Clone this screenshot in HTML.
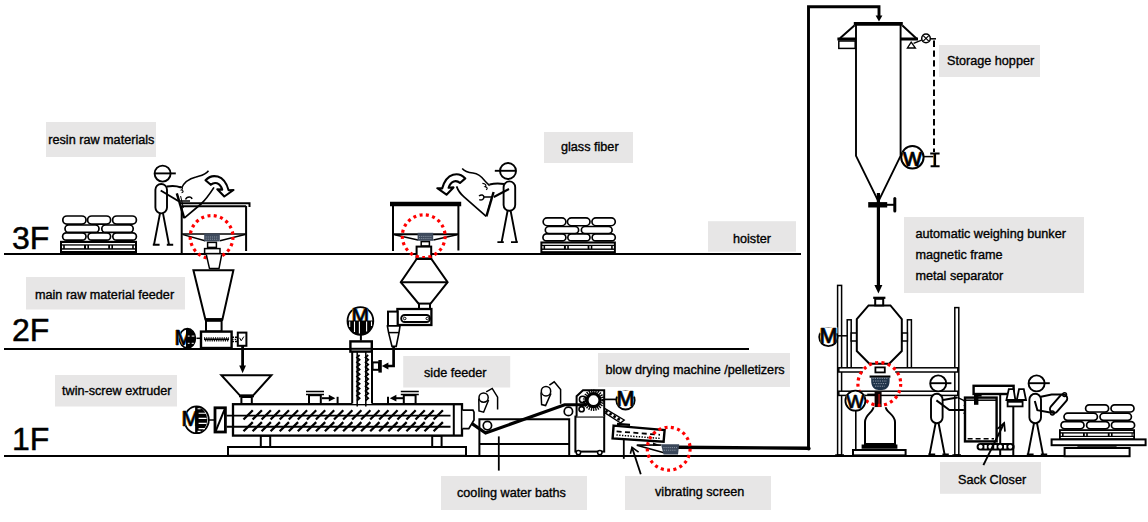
<!DOCTYPE html>
<html><head><meta charset="utf-8">
<style>
html,body{margin:0;padding:0;background:#fff;}
body{width:1148px;height:522px;overflow:hidden;}
svg{display:block;}
.lb{fill:#e7e6e6;}
.t{font-family:"Liberation Sans",sans-serif;font-size:12.65px;fill:#000;stroke:#000;stroke-width:0.35px;}
.fl{font-family:"Liberation Sans",sans-serif;font-size:32px;fill:#000;stroke:#000;stroke-width:0.5px;}
.k{fill:none;stroke:#000;stroke-width:2;}
.k1{fill:none;stroke:#000;stroke-width:1.5;}
.k3{fill:none;stroke:#000;stroke-width:3;}
.w{fill:#fff;stroke:#000;stroke-width:2;}
.w1{fill:#fff;stroke:#000;stroke-width:1.5;}
.b{fill:#000;stroke:none;}
.rd{fill:none;stroke:#f00;stroke-width:3;stroke-dasharray:3 3.6;}
</style></head>
<body>
<svg width="1148" height="522" viewBox="0 0 1148 522">
<rect width="1148" height="522" fill="#fff"/>
<!-- LABELS -->
<g id="labels">
<rect class="lb" x="46" y="122" width="110" height="35"/><text class="t" x="48.3" y="143.8">resin raw materials</text>
<rect class="lb" x="544" y="132" width="89" height="31"/><text class="t" x="561" y="150.5">glass fiber</text>
<rect class="lb" x="708" y="221.2" width="88" height="30.5"/><text class="t" x="733" y="243">hoister</text>
<rect class="lb" x="26" y="277" width="159" height="32.5"/><text class="t" x="35" y="299">main raw material feeder</text>
<rect class="lb" x="55" y="375" width="122" height="31.5"/><text class="t" x="62" y="395">twin-screw extruder</text>
<rect class="lb" x="403.2" y="356" width="107" height="31.5"/><text class="t" x="424" y="377">side feeder</text>
<rect class="lb" x="598" y="353" width="192" height="34"/><text class="t" x="605.5" y="374">blow drying machine /pelletizers</text>
<rect class="lb" x="441" y="476" width="146" height="34"/><text class="t" x="457" y="497">cooling water baths</text>
<rect class="lb" x="625" y="476" width="146" height="34"/><text class="t" x="655" y="496">vibrating screen</text>
<rect class="lb" x="939" y="45" width="101" height="32"/><text class="t" x="947" y="65">Storage hopper</text>
<rect class="lb" x="904" y="217" width="180" height="76"/>
<text class="t" x="915.5" y="238">automatic weighing bunker</text>
<text class="t" x="915.5" y="259">magnetic frame</text>
<text class="t" x="915.5" y="280">metal separator</text>
<rect class="lb" x="940" y="462" width="101" height="31.8"/><text class="t" x="958" y="484">Sack Closer</text>
</g>
<!-- FLOORS -->
<g id="floors">
<line class="k" x1="4" y1="254" x2="801" y2="254"/>
<line class="k" x1="4" y1="348.9" x2="749" y2="348.9"/>
<line class="k" x1="4" y1="456" x2="1130" y2="456"/>
<text class="fl" x="12" y="249">3F</text>
<text class="fl" x="12" y="341">2F</text>
<text class="fl" x="12" y="450">1F</text>
</g>
<defs>
<!-- sack pile on pallet; origin = pallet bottom-left at floor line centre; width 77 -->
<g id="pile">
  <rect x="0" y="-13.2" width="77" height="13.2" fill="#000"/>
  <rect x="2" y="-11" width="73" height="1.3" fill="#fff"/>
  <rect x="2" y="-4.3" width="73" height="1.3" fill="#fff"/>
  <rect x="2" y="-8.4" width="1.2" height="2.6" fill="#fff"/>
  <rect x="4.8" y="-8.4" width="19.2" height="2.6" fill="#fff"/>
  <rect x="26" y="-8.4" width="1.4" height="2.6" fill="#fff"/>
  <rect x="29" y="-8.4" width="19.2" height="2.6" fill="#fff"/>
  <rect x="50" y="-8.4" width="1.4" height="2.6" fill="#fff"/>
  <rect x="53" y="-8.4" width="19.2" height="2.6" fill="#fff"/>
  <rect x="73.8" y="-8.4" width="1.2" height="2.6" fill="#fff"/>
  <g fill="#fff" stroke="#000" style="stroke-width:1.7">
    <rect x="2.6" y="-21.2" width="23.4" height="7.4" rx="3.7"/>
    <rect x="28" y="-21.2" width="22.6" height="7.4" rx="3.7"/>
    <rect x="52.8" y="-21.2" width="23.6" height="7.4" rx="3.7"/>
    <rect x="5" y="-29" width="34" height="7.4" rx="3.7"/>
    <rect x="41.8" y="-29" width="31.4" height="7.4" rx="3.7"/>
    <rect x="2.8" y="-38" width="23.2" height="8.2" rx="4.1"/>
    <rect x="27.6" y="-38" width="23" height="8.2" rx="4.1"/>
    <rect x="52.6" y="-38" width="23.8" height="8.2" rx="4.1"/>
  </g>
</g>
<!-- worker facing right; origin = feet centre on floor. -->
<g id="worker" fill="none" stroke="#000" style="stroke-width:1.9" stroke-linecap="butt">
  <circle cx="0" cy="-72" r="8" fill="#fff"/>
  <line x1="-8" y1="-72.2" x2="13.2" y2="-72.2"/>
  <rect x="-7.2" y="-61.6" width="11.6" height="29.4" rx="5.8" fill="#fff"/>
  <path d="M-2.6,-32.2 L-8.6,-0.9 M0.4,-32.2 L6.4,-0.9"/>
  <path d="M-9.8,-0.9 H-3 M4.2,-0.9 H10.6"/>
</g>
<!-- red dashed circle + valve; origin = circle centre -->
<g id="rvalve">
  <circle cx="0" cy="0" r="21.4" fill="none" stroke="#f00" style="stroke-width:3.2" stroke-dasharray="3 3.4"/>
</g>
<!-- motor 2F: origin = ellipse centre -->
<g id="motor">
  <ellipse cx="0" cy="0" rx="8" ry="9.6" fill="#fff" stroke="#000" style="stroke-width:1.7"/>
  <text x="-13.6" y="6.4" font-family="Liberation Sans" font-size="21.5" fill="#f0a030" stroke="none">M</text><text x="-12.2" y="6.4" font-family="Liberation Sans" font-size="21.5" fill="#2f7fd0" stroke="none">M</text><text x="-12.9" y="6.4" font-family="Liberation Sans" font-size="21.5" fill="#000" stroke="#000" style="stroke-width:0.5">M</text>
  <path d="M-1.3,-9.5 A8,9.6 0 0 1 -1.3,9.5 Z" fill="#000"/>
  <path d="M-1.3,-9.6 H0 A8,9.6 0 0 1 0,9.6 H-1.3 Z" fill="#000"/>
  <path d="M0.4,-2.2 H2.2 M4.3,-2.2 H7 M0.4,5 H2.2 M4.3,5 H6.4" stroke="#fff" style="stroke-width:1" fill="none"/>
  
</g>
<g id="motorB">
  <ellipse cx="0" cy="0" rx="12.2" ry="13.4" fill="#fff" stroke="#000" style="stroke-width:1.8"/>
  <text x="-15.8" y="5.9" font-family="Liberation Sans" font-size="21.5" fill="#f0a030" stroke="none">M</text><text x="-14.4" y="5.9" font-family="Liberation Sans" font-size="21.5" fill="#2f7fd0" stroke="none">M</text><text x="-15.1" y="5.9" font-family="Liberation Sans" font-size="21.5" fill="#000" stroke="#000" style="stroke-width:0.5">M</text>
  <path d="M-1.5,-13.3 H0 A12.2,13.4 0 0 1 0,13.3 H-1.5 Z" fill="#000"/>
  <path d="M2,-6.6 H9.4 M2,-1.4 H10 M2,3.6 H10 M2,8.8 H8.4 M1,-11 H4 M1,11.6 H4" stroke="#fff" style="stroke-width:1.1" fill="none"/>
  
</g>
<g id="motorM">
  <circle cx="0" cy="0" r="9.2" fill="#fff" stroke="#000" style="stroke-width:1.8"/>
  <rect x="-9" y="-9.6" width="18" height="6" fill="#fff"/>
  <text x="-9.6" y="5.6" font-family="Liberation Sans" font-size="21.5" fill="#f0a030" stroke="none">M</text><text x="-8.2" y="5.6" font-family="Liberation Sans" font-size="21.5" fill="#2f7fd0" stroke="none">M</text><text x="-8.9" y="5.6" font-family="Liberation Sans" font-size="21.5" fill="#000" stroke="#000" style="stroke-width:0.6">M</text>
</g>
</defs>
<g id="s3fL">
<use href="#pile" x="60" y="254"/>
<use href="#worker" x="162.6" y="245.6"/>
<!-- arms -->
<path class="k" d="M160.7,190.5 L178.3,201"/>
<path class="k" d="M166.8,186.6 C172,185.6 177,186 181,187.5"/>
<!-- table -->
<path class="k" d="M180,203.3 H249.5 V207"/>
<path class="k" d="M181.7,206.3 H246.1"/>
<path class="k" d="M181.7,206 V253.5 M246.1,206 V251"/>
<path class="k1" d="M181.7,233.9 H246.1"/>
<path class="k1" d="M183,234.6 L205,240.8 M245,234.6 L220,240.8"/>
<!-- valve -->
<rect x="204.2" y="233.4" width="15.6" height="8" fill="#3e4a5c"/>
<path d="M205.6,237 H218.5 M205.6,239.2 H218.5" stroke="#8d97a6" style="stroke-width:0.9" stroke-dasharray="1.2 0.9" fill="none"/>
<rect class="w1" x="207.6" y="242.4" width="8.8" height="5"/>
<rect class="w1" x="204.6" y="248.6" width="15.4" height="5"/>
<use href="#rvalve" x="211.6" y="237"/>
<!-- neck below floor -->
<path class="w1" d="M206.3,254.6 L209.5,268.6 H219 L221.7,254.6"/>
<!-- bag -->
<path class="k" d="M176.8,193.4 L184.2,218.2" style="stroke-width:2.4"/>
<path class="k" d="M184.2,218.2 L201,204 C206,199.4 210,193.6 214,187.4" style="stroke-width:1.7"/>
<path class="k1" d="M180.6,196 L183.4,208" style="stroke-width:1"/>
<path class="k1" d="M181.5,188.3 C184,182 190,178.5 196,177 C201,175.5 205.5,175 208.5,170.8"/>
<path class="k1" d="M185.5,199.5 C187,196 191.5,196.2 192,199"/>
<path class="k1" d="M178.3,201 H190"/>
<path class="k1" d="M179.6,186.6 C182.6,187 183.4,189 181.4,190 C183.6,190.4 183.8,192.2 181.6,192.6" style="stroke-width:1.1"/>
<!-- curved arrow -->
<path class="w1" style="stroke-width:2.1;stroke-linejoin:round" d="M205.5,180.2 C212,173.5 224,174 228.6,190.2 L233.5,190 L224.3,196.5 L217.3,189.2 L222.2,189.6 C220,182.5 214.5,181.5 210.8,184.8 Z"/>
</g>
<g id="s2fL">
<!-- feeder hopper -->
<path class="w" d="M193.4,270.2 H233.4 L222.4,319.4 H205.4 Z"/>
<path class="k3" d="M205,319.6 H222.8"/>
<rect class="w" x="206" y="320.8" width="15.6" height="10.6"/>
<rect class="w" x="201" y="331.6" width="30.6" height="16.4" style="stroke-width:2.4"/>
<path d="M204,339.3 H229" stroke="#000" style="stroke-width:1.7" fill="none"/>
<path d="M204,338 H229 M205.1,340.6 H229" stroke="#000" style="stroke-width:1.6" stroke-dasharray="1.1 1.1" fill="none"/>
<!-- coupling + box -->
<path class="k1" d="M232,337.2 H237.4 M232,341.6 H237.4" stroke-dasharray="2 1"/>
<path d="M232,339.4 H237.4" stroke="#000" style="stroke-width:1.2" stroke-dasharray="1.5 1.2" fill="none"/>
<rect class="w" x="237.8" y="332.6" width="8.6" height="13.2"/>
<path class="k1" d="M239.6,337.8 l1.6,3 l2.6,-4.2" style="stroke-width:1"/>
<!-- arrow down -->
<path class="k" d="M242.6,346 V367" style="stroke-width:2.8"/>
<path class="b" d="M239.2,365.6 H246 L242.6,373.2 Z"/>
<!-- motor -->
<path class="k1" d="M196.5,338.3 H201"/>
<use href="#motor" x="187.4" y="338.3"/>
</g>
<g id="extruder">
<rect class="w" x="228" y="447" width="238" height="8.8"/>
<rect class="w" x="260.8" y="435.8" width="9.4" height="11.2"/>
<rect class="w" x="432.2" y="435.8" width="9.4" height="11.2"/>
<path class="w" d="M221.4,375.2 H271.4 L253,395.6 H240 Z"/>
<path class="k3" d="M239,396 H254" style="stroke-width:2.6"/>
<rect class="w" x="241.4" y="397" width="10.4" height="7"/>
<path class="k" d="M306,391.4 H324 M306,394.4 H324" style="stroke-width:1.5"/>
<rect class="w" x="309" y="395.2" width="11.8" height="8.8"/>
<path class="k" d="M400.8,391.4 H418.8 M400.8,394.4 H418.8" style="stroke-width:1.5"/>
<rect class="w" x="403.8" y="395.2" width="11.8" height="8.8"/>
<path class="k" d="M322,398.2 H331"/><path class="b" d="M328.8,394.8 L335.4,398.2 L328.8,401.6 Z"/><path class="k" d="M337.6,396.8 V404"/>
<path class="k" d="M403.4,398.2 H394"/><path class="b" d="M396.4,394.8 L389.8,398.2 L396.4,401.6 Z"/><path class="k" d="M388,396.8 V404"/>
<rect class="w" x="233" y="404.2" width="229" height="31.4" style="stroke-width:2.3"/>
<path class="k" d="M453.8,404 V436"/>
<path class="k" d="M226.6,415.6 H450.5 M226.6,426.8 H450.5" style="stroke-width:1.9"/>
<path class="k" d="M243.5,419.5 l9.3,-9.2 M243.5,431.3 l9.3,-9.2 M252.6,419.5 l9.3,-9.2 M252.6,431.3 l9.3,-9.2 M261.6,419.5 l9.3,-9.2 M261.6,431.3 l9.3,-9.2 M270.6,419.5 l9.3,-9.2 M270.6,431.3 l9.3,-9.2 M279.7,419.5 l9.3,-9.2 M279.7,431.3 l9.3,-9.2 M288.8,419.5 l9.3,-9.2 M288.8,431.3 l9.3,-9.2 M297.8,419.5 l9.3,-9.2 M297.8,431.3 l9.3,-9.2 M306.9,419.5 l9.3,-9.2 M306.9,431.3 l9.3,-9.2 M315.9,419.5 l9.3,-9.2 M315.9,431.3 l9.3,-9.2 M324.9,419.5 l9.3,-9.2 M324.9,431.3 l9.3,-9.2 M334.0,419.5 l9.3,-9.2 M334.0,431.3 l9.3,-9.2 M343.1,419.5 l9.3,-9.2 M343.1,431.3 l9.3,-9.2 M352.1,419.5 l9.3,-9.2 M352.1,431.3 l9.3,-9.2 M361.1,419.5 l9.3,-9.2 M361.1,431.3 l9.3,-9.2 M370.2,419.5 l9.3,-9.2 M370.2,431.3 l9.3,-9.2 M379.2,419.5 l9.3,-9.2 M379.2,431.3 l9.3,-9.2 M388.3,419.5 l9.3,-9.2 M388.3,431.3 l9.3,-9.2 M397.4,419.5 l9.3,-9.2 M397.4,431.3 l9.3,-9.2 M406.4,419.5 l9.3,-9.2 M406.4,431.3 l9.3,-9.2 M415.5,419.5 l9.3,-9.2 M415.5,431.3 l9.3,-9.2 M424.5,419.5 l9.3,-9.2 M424.5,431.3 l9.3,-9.2 M433.6,419.5 l9.3,-9.2 M433.6,431.3 l9.3,-9.2" style="stroke-width:2.3"/>
<rect class="w" x="215" y="407.8" width="10.4" height="24.2" style="stroke-width:2.8"/>
<path class="k" d="M215.4,431.8 L225,408.4"/>
<path class="k1" d="M209,420 H214"/>
<use href="#motorB" x="196.6" y="419.8"/>
<path class="w1" d="M462.4,410.2 H473 L474,412.2 V420 L468.8,428.6 H462.4" style="stroke-width:1.7"/>
</g>
<g id="s3fR">
<use href="#pile" transform="translate(540.4,254) scale(0.98,0.95)"/>
<g transform="translate(508,243) scale(-1,1)"><use href="#worker"/></g>
<!-- arms -->
<path class="k" d="M509,189 L493.8,197"/>
<path class="k" d="M504,184 C499,183.2 494,183.4 489.5,184.4"/>
<!-- table -->
<path d="M390,204 H461.2" stroke="#000" style="stroke-width:4.6" fill="none"/>
<path class="k" d="M393,206 V251 M458.4,206 V250.6"/>
<path class="k" d="M393,234.2 H458.4"/>
<path class="k1" d="M394.6,234.8 L418,240 M457,234.8 L433.4,240"/>
<rect x="417.6" y="232.8" width="15.6" height="8" fill="#3e4a5c"/>
<path d="M419,236.4 H432 M419,238.6 H432" stroke="#8d97a6" style="stroke-width:0.9" stroke-dasharray="1.2 0.9" fill="none"/>
<rect class="w1" x="421.2" y="241.6" width="8.2" height="4.4"/>
<rect class="w" x="416.6" y="246.6" width="14.6" height="11.8"/>
<use href="#rvalve" x="423.7" y="236.2"/>
<!-- bag -->
<path class="k1" d="M462.2,168.5 C465,172 469,172.6 473,173 C478,173.6 482,177 485,181 C486.6,183 488.4,184.4 489.6,185.6"/>
<path class="k1" d="M456.6,186.4 C458.4,191.6 460.6,194 464,196.8 L486.2,216.4" style="stroke-width:1.7"/>
<path class="k" d="M493.6,192 L486.4,216.4" style="stroke-width:2.4"/>
<path class="k1" d="M491.4,198 L488,210" style="stroke-width:1"/>
<path class="k1" d="M479,196 C481.5,194 483.6,195 484,197 M479.2,199.6 C481.6,200.6 483.8,199.6 484,197 H493"/>
<path class="k1" d="M482.4,183.4 C485.4,183.6 487,185.4 485,186.6 C487.6,187.2 488,189 486,189.6" style="stroke-width:1.1"/>
<!-- curved arrow (mirrored) -->
<g transform="translate(670.8,-1.8) scale(-1,1)">
<path class="w1" style="stroke-width:2.1;stroke-linejoin:round" d="M205.5,180.2 C212,173.5 224,174 228.6,190.2 L233.5,190 L224.3,196.5 L217.3,189.2 L222.2,189.6 C220,182.5 214.5,181.5 210.8,184.8 Z"/>
</g>
</g>
<g id="sidefeeder">
<!-- double-cone hopper -->
<path class="w" d="M416.6,259 L400.8,282.2 L418.8,304 H430.2 L447.6,282.2 L431.4,259 Z"/>
<path class="k" d="M400.8,282.2 H447.6"/>
<rect class="w" x="419" y="303.6" width="11" height="5.4"/>
<!-- belt feeder -->
<rect class="w" x="397.4" y="309" width="34" height="16" style="stroke-width:2.3"/>
<rect class="w1" x="401.2" y="315" width="28.8" height="7" rx="3.5" style="stroke-width:1.9"/>
<circle cx="404.7" cy="318.5" r="1.3" class="k1" style="stroke-width:1"/>
<circle cx="427.3" cy="318.5" r="1.3" class="k1" style="stroke-width:1"/>
<!-- cyclone -->
<rect class="w" x="388" y="311.6" width="9.6" height="14.4"/>
<path class="w" d="M387.4,326 H400 L399,332.6 L396.2,346.4 H392 L388.6,332.6 Z" style="stroke-width:1.6"/>
<path class="k1" d="M388.6,332.6 H399"/>
<!-- pipe to inlet -->
<path class="k" d="M393.6,346.4 V366 H387" style="stroke-width:2.7"/>
<path class="b" d="M388.4,362.6 L381.8,366 L388.4,369.4 Z"/>
<!-- inlet port -->
<rect class="w" x="372.6" y="362.4" width="6.4" height="7.4"/>
<rect class="b" x="378.4" y="360" width="3.4" height="12.6"/>
<!-- vertical barrel -->
<rect x="352.2" y="352" width="19.8" height="52" fill="#fff"/>
<path class="k" d="M352.2,352 V403.6 M372,352 V403.6"/>
<path class="k" d="M357.2,352 V406.4 M365.8,352 V406.4" style="stroke-width:1.5"/>
<path class="k" d="M359.6,355 l-2.6,2.4 l2.6,2.4 l-2.6,2.4 l2.6,2.4 l-2.6,2.4 l2.6,2.4 l-2.6,2.4 l2.6,2.4 l-2.6,2.4 l2.6,2.4 l-2.6,2.4 l2.6,2.4 l-2.6,2.4 l2.6,2.4 l-2.6,2.4 l2.6,2.4 l-2.6,2.4 l2.6,2.4 l-2.6,2.4" style="stroke-width:1.8"/>
<path class="k" d="M368.2,355 l-2.6,2.4 l2.6,2.4 l-2.6,2.4 l2.6,2.4 l-2.6,2.4 l2.6,2.4 l-2.6,2.4 l2.6,2.4 l-2.6,2.4 l2.6,2.4 l-2.6,2.4 l2.6,2.4 l-2.6,2.4 l2.6,2.4 l-2.6,2.4 l2.6,2.4 l-2.6,2.4 l2.6,2.4 l-2.6,2.4" style="stroke-width:1.8"/>
<!-- box on floor -->
<rect class="w" x="350.4" y="341.4" width="21.4" height="10.2" style="stroke-width:2.4"/>
<path class="k" d="M350.2,348.8 H372"/>
<!-- motor (vertical) -->
<path class="k" d="M360.9,335 V340.6"/>
<g transform="translate(360.4,321)">
  <ellipse cx="0" cy="0" rx="12.9" ry="13.9" fill="#fff" stroke="#000" style="stroke-width:1.8"/>
  <text x="-9.6" y="0.9" font-family="Liberation Sans" font-size="21" fill="#f0a030" stroke="none">M</text><text x="-8.2" y="0.9" font-family="Liberation Sans" font-size="21" fill="#2f7fd0" stroke="none">M</text><text x="-8.9" y="0.9" font-family="Liberation Sans" font-size="21" fill="#000" stroke="#000" style="stroke-width:0.5">M</text>
  <path d="M-12.9,-0.4 V0 A12.9,13.9 0 0 0 12.9,0 V-0.4 Z" fill="#000"/>
  <path d="M-10.7,0.6 V6 M-5.9,0.6 V11 M-1,0.6 V12.6 M6.2,0.6 V10.6 M11.1,0.6 V5" stroke="#fff" style="stroke-width:1.1" fill="none"/>
  
</g>
</g>
<g id="cooling">
<!-- bath -->
<path class="k" d="M479.4,455 V419.2 H569.2 V455"/>
<path class="k" d="M479.4,444 H569.2"/>
<path class="k" d="M498.8,436.4 V470.6" style="stroke-width:1.8"/>
<!-- rollers -->
<circle class="w" cx="487.4" cy="425.6" r="4.2" style="stroke-width:1.7"/>
<circle class="w" cx="568.4" cy="411.4" r="4.2" style="stroke-width:1.7"/>
<!-- blowers -->
<g id="blower1">
<path class="w1" d="M478.8,398.4 L479,411 L483.6,412.2 L488.6,400"/>
<circle class="w1" cx="483.6" cy="397.6" r="4.6"/>
<path class="k1" d="M486.2,391.8 L492.2,388.4 L497.6,397.2 V409.6"/>
</g>
<g>
<path class="w1" d="M541,392.4 L541.6,404.6 L545.6,405.6 L551,393.4"/>
<circle class="w1" cx="546" cy="391.2" r="4.7"/>
<path class="k1" d="M549.4,385.2 L554.2,381.8 L560.6,389.6 V403.8"/>
</g>
<!-- pelletizer -->
<rect class="w" x="575.4" y="416.6" width="28.8" height="35"/>
<path class="w" d="M576.6,416.6 V396.2 L583,390.2 H604.2 V416.6"/>
<!-- strand -->
<path class="k" d="M472,423.6 L485.6,433 L564.6,404.8 H587" style="stroke-width:3.1" stroke-linejoin="miter"/>
<circle class="w1" cx="578.4" cy="452.6" r="2.2"/>
<circle class="w1" cx="599.8" cy="452.6" r="2.2"/>
<circle class="w1" cx="582.6" cy="399.4" r="3.2" style="stroke-width:1.6"/>
<circle class="w1" cx="581.6" cy="409.2" r="2.6" style="stroke-width:1.6"/>
<circle cx="593.5" cy="400.2" r="9.2" fill="none" stroke="#000" style="stroke-width:3" stroke-dasharray="1.3 0.95"/>
<circle cx="593.5" cy="400.2" r="6.5" fill="#fff" stroke="#000" style="stroke-width:3.2"/>
<!-- chute from pelletizer -->
<path class="k1" d="M604.6,408.4 L624.2,420 L620.6,423 M604.6,412.6 L620.6,423" style="stroke-width:1.4"/>
<path d="M605.4,410.8 L621.6,421" stroke="#000" style="stroke-width:2.6" stroke-dasharray="2.6 2.2" fill="none"/>
<!-- motor -->
<path class="k" d="M604.2,399.4 H617.2" style="stroke-width:1.7"/>
<use href="#motorM" x="625.5" y="400.3"/>
<!-- vibrating screen -->
<path class="w" d="M613.6,425.6 L664.6,430 L663.6,441.8 L612.6,438.4 Z" style="stroke-width:2.4"/>
<path d="M617,423.8 L630,424.9" stroke="#000" style="stroke-width:2.2" fill="none"/>
<path d="M616.6,431.4 L660,434.8" stroke="#000" style="stroke-width:1.8" stroke-dasharray="5 3.4" fill="none"/>
<path d="M616.4,435 L660,438.4" stroke="#000" style="stroke-width:1.5" stroke-dasharray="1.4 1.4" fill="none"/>
<path class="k" d="M623.8,439.6 V458.8" style="stroke-width:1.8"/>
<path class="k1" d="M661,445 L636.8,445.2 L664,452.8" style="stroke-width:1.7"/><path d="M653,442.6 L661.6,445.8 H653 Z" fill="#000"/>
<!-- valve + circle + pipe -->
<path class="k" d="M676,447.2 L809,448.2" style="stroke-width:3.4"/>
<path d="M661,444.2 H679.2 L678,454.6 H663.6 Z" fill="#3a475a"/>
<path d="M663.4,447.6 H677 M663.8,450.2 H676.6" stroke="#8d97a6" style="stroke-width:0.9" stroke-dasharray="1.2 0.9" fill="none"/>
<use href="#rvalve" x="668.7" y="448.7"/>
<!-- pointer arrow -->
<path class="k" d="M640.8,474.2 L632,447.4" style="stroke-width:1.8"/>
<path class="k" d="M630.4,453.8 L632,447.4 L638.6,452.2" style="stroke-width:1.6"/>
</g>
<g id="hoister">
<path class="k" d="M808.5,449 V6.8 H879 V17" style="stroke-width:2.9" stroke-linejoin="miter"/>
<path class="b" d="M875.6,15.6 H882.4 L879,21.6 Z"/>
<circle cx="808.6" cy="448.4" r="2" class="b"/>
<!-- storage hopper -->
<path class="k" d="M856,25 V155.8 L878.4,201.4 L900.6,155.8 V25" style="stroke-width:1.9"/>
<path d="M853.8,23.8 H902.8" stroke="#000" style="stroke-width:3.8" fill="none"/>
<!-- brackets -->
<path class="k" d="M854.4,25.4 L840,38.2 M902.4,25.4 L916.4,38.4"/>
<path d="M837.4,39 H856 M900.6,39 H918" stroke="#000" style="stroke-width:3.2" fill="none"/>
<rect class="w1" x="838.8" y="41" width="16.4" height="7.4"/>
<path class="w1" d="M911.2,42.2 L907.4,48 H915.4 Z" style="stroke-width:1.3"/>
<path class="k1" d="M913.6,43.4 L921.6,40.2" style="stroke-width:1.3"/>
<circle class="w1" cx="926" cy="38.4" r="4.3" style="stroke-width:1.5"/>
<path class="k1" d="M923.2,35.6 L928.8,41.2 M928.8,35.6 L923.2,41.2" style="stroke-width:1.2"/>
<path class="k1" d="M930.4,38.8 H936"/>
<path d="M934,40.6 V152" stroke="#000" style="stroke-width:2" stroke-dasharray="6.4 3.4" fill="none"/>
<!-- W circle & I -->
<circle class="w1" cx="912.4" cy="157.3" r="11.2" style="stroke-width:2"/>
<text x="902.3" y="166" font-family="Liberation Sans" font-size="20" fill="#f0a030">W</text><text x="903.5" y="166" font-family="Liberation Sans" font-size="20" fill="#2f7fd0">W</text><text x="902.9" y="166" font-family="Liberation Sans" font-size="20" fill="#000" stroke="#000" stroke-width="0.7">W</text>
<path class="k1" d="M924,156.6 H933.6"/>
<path d="M934.1,153.4 V166.2" stroke="#f0a030" stroke-width="1.6" fill="none"/><path class="k" d="M934.9,153.4 V166.2" style="stroke-width:2.4"/><path class="k" d="M930.2,153.5 H939.6 M930.6,166.2 H939.6" style="stroke-width:2"/>
<!-- bottom valve -->
<path d="M868.2,204.8 H887.2" stroke="#000" style="stroke-width:5.4" fill="none"/>
<path class="k" d="M887,204.8 H895"/>
<path d="M894.8,198.6 V211" stroke="#000" style="stroke-width:3" stroke-linecap="round" fill="none"/>
<!-- pipe down -->
<path class="k" d="M878.4,193 V287" style="stroke-width:3.2"/>
<path class="b" d="M874.4,285 H882.4 L878.4,293.6 Z"/>
</g>
<g id="bunker">
<!-- frame posts & beams -->
<rect class="w1" x="837.6" y="285.4" width="4" height="169.6"/>
<rect class="w1" x="954.8" y="307.6" width="4" height="147.4"/>
<rect class="w1" x="847.2" y="319.8" width="4" height="48"/>
<rect class="w1" x="907.4" y="319.8" width="4" height="48"/>
<rect class="w1" x="838.8" y="367.8" width="119" height="4.2"/>
<rect class="w1" x="838.8" y="391.2" width="119" height="4.2"/>
<rect class="w1" x="851.2" y="333" width="5.6" height="8"/>
<rect class="w1" x="901.8" y="333" width="5.6" height="8"/>
<!-- vessel -->
<path class="w" d="M868.6,305.4 H890.4 L901.8,319.2 V351 L889.2,363.8 H869.4 L856.8,351 V319.2 Z"/>
<rect class="w" x="875.2" y="298.8" width="8" height="6.6"/>
<path class="k" d="M873.2,297.8 H885.4" style="stroke-width:2.2"/>
<!-- motor -->
<path class="k1" d="M837.6,335.8 H847.2"/>
<use href="#motorM" x="828.4" y="337"/>
<!-- valve -->
<rect x="862.8" y="365.6" width="32.4" height="8.6" fill="#fff"/>
<rect class="w" x="875.4" y="367.4" width="9.4" height="5" style="stroke-width:1.8"/>
<path class="k" d="M869.6,376.6 H890.4" style="stroke-width:2.2"/>
<path d="M871.2,377.4 H889.6 V381 C889.6,387 886,390 882,390 H878.6 C874.6,390 871.2,387 871.2,381 Z" fill="#1f3349"/>
<path d="M872.4,378.4 H887.4 M872.8,381 H887 M873.6,383.6 H886.2 M875,386.2 H884.8" stroke="#8d97a6" style="stroke-width:1" stroke-dasharray="1.3 1" fill="none"/>
<rect x="874.6" y="392" width="7" height="15.2" fill="#0c0202"/>
<rect x="878.2" y="394" width="1.8" height="12" fill="#8a1414"/>
<use href="#rvalve" x="879.3" y="383.9"/>
<!-- W -->
<path class="k1" d="M855.8,410 V450" style="stroke-width:1.6"/>
<path class="k" d="M835.2,455 H844 M952.4,455 H961" style="stroke-width:1.6"/>
<path class="k1" d="M867.2,394.4 H876"/>
<g transform="translate(855.4,400.7)">
  <circle cx="0" cy="0" r="10" fill="#fff" stroke="#000" style="stroke-width:1.8"/>
  <text x="-9.7" y="6.8" font-family="Liberation Sans" font-size="19" fill="#e8a04a" stroke="none">W</text>
  <text x="-8.5" y="6.8" font-family="Liberation Sans" font-size="19" fill="#3b6fb5" stroke="none">W</text>
  <text x="-9.1" y="6.8" font-family="Liberation Sans" font-size="19" fill="#000" stroke="#000" style="stroke-width:0.4">W</text>
</g>
<!-- bag being filled -->
<path class="w" d="M873.4,407.2 C873.4,412 865,414.5 865,422 V444 H895 V422 C895,414.5 885.8,412 885.8,407.2" />
<path d="M861.6,446.6 H897.4" stroke="#000" style="stroke-width:4.4" fill="none"/>
<rect class="w" x="853" y="450" width="52.6" height="5.4"/>
</g>
<g id="sackcloser">
<use href="#worker" x="938.2" y="455.4"/>
<path class="k" d="M936.4,400.4 L949.4,410 H963.6"/>
<path class="k" d="M943,400 L957.4,397.4"/>
<path class="k1" d="M957.4,397.4 L963.6,400.4 C965.6,402 966.2,404 964.4,405.4 C966.6,406.8 966.4,409.6 963.6,410 C965.4,411.4 965,413.2 963.4,413.4" style="stroke-width:1.3"/>
<!-- closer frame -->
<rect class="w" x="973.6" y="385.8" width="40" height="8.2" style="stroke-width:2.4"/>
<path class="k" d="M1000.2,394 V455 M1013.3,406.8 V455"/>
<!-- bag -->
<rect class="w" x="965" y="397.6" width="31.6" height="43.8" style="stroke-width:2.4"/>
<path class="k1" d="M965,400.2 H996.6"/>
<path d="M967.6,438.8 H994" stroke="#000" style="stroke-width:1.6" stroke-dasharray="5 3" fill="none"/>
<rect class="b" x="974" y="394" width="4.4" height="10.8"/>
<rect class="b" x="974" y="394" width="7.6" height="2.6"/>
<!-- thread cones -->
<path class="w" d="M1008.8,389.2 H1013.6 L1015.4,400 H1006.4 Z M1019,389.2 H1023.8 L1026,400 H1016.8 Z" style="stroke-width:1.8"/>
<rect class="w" x="1007.6" y="401.8" width="15" height="4.6" style="stroke-width:1.8"/>
<!-- conveyor -->
<rect x="976.6" y="443" width="38" height="7.6" rx="3.8" fill="#000"/>
<circle cx="980.6" cy="446.8" r="2" fill="#fff"/><circle cx="990.4" cy="446.8" r="2" fill="#fff"/><circle cx="1000.2" cy="446.8" r="2" fill="#fff"/><circle cx="1010.2" cy="446.8" r="2" fill="#fff"/>
<rect x="984.4" y="445" width="2.4" height="3.6" fill="#fff"/><rect x="994.2" y="445" width="2.4" height="3.6" fill="#fff"/><rect x="1004" y="445" width="2.4" height="3.6" fill="#fff"/>
<!-- pointer arrow -->
<path class="k" d="M983.4,465.2 L1004.2,423" style="stroke-width:1.9"/>
<path class="k" d="M997.4,428.8 L1004.2,423 L1005,431.6" style="stroke-width:1.7"/>
<!-- worker 4 -->
<use href="#worker" x="1036.6" y="455.4"/>
<path class="k" d="M1040.9,396.8 L1051.6,394.4 H1062.6"/>
<path class="k" d="M1034.8,401 L1037.4,410.2 L1051.6,412.8"/>
<g transform="translate(1058.6,403.8) rotate(-49)">
  <rect class="w" x="-11" y="-4" width="22" height="8" rx="4" style="stroke-width:2"/>
</g>
<circle class="k1" cx="1052.4" cy="413" r="1.9" style="stroke-width:1.5"/>
<circle class="k1" cx="1064.6" cy="394.6" r="1.9" style="stroke-width:1.5"/>
<!-- right pile on scale -->
<rect class="w" x="1064.6" y="448" width="65" height="8.2"/>
<path class="k" d="M1077.4,446.7 H1116.6" style="stroke-width:0.9"/>
<rect class="w" x="1051.6" y="439.4" width="94" height="5.8"/>
<rect x="1059" y="429.2" width="76" height="10.2" fill="#000"/>
<rect x="1060.8" y="431" width="72.4" height="1.2" fill="#fff"/>
<rect x="1060.8" y="437" width="72.4" height="1.1" fill="#fff"/>
<rect x="1060.8" y="433.6" width="1.2" height="2.2" fill="#fff"/>
<rect x="1063.6" y="433.6" width="19.4" height="2.2" fill="#fff"/>
<rect x="1084.8" y="433.6" width="1.4" height="2.2" fill="#fff"/>
<rect x="1087.8" y="433.6" width="20" height="2.2" fill="#fff"/>
<rect x="1109.6" y="433.6" width="1.4" height="2.2" fill="#fff"/>
<rect x="1112.6" y="433.6" width="19" height="2.2" fill="#fff"/>
<rect x="1132.6" y="433.6" width="0.8" height="2.2" fill="#fff"/>
<g fill="#fff" stroke="#000" style="stroke-width:1.7">
  <rect x="1061" y="421.6" width="23" height="7.2" rx="3.6"/>
  <rect x="1086.6" y="421.6" width="22.6" height="7.2" rx="3.6"/>
  <rect x="1111.4" y="421.6" width="23.2" height="7.2" rx="3.6"/>
  <rect x="1064" y="413.2" width="33.4" height="7.2" rx="3.6"/>
  <rect x="1100" y="413.2" width="31.4" height="7.2" rx="3.6"/>
  <rect x="1085.6" y="404.8" width="23" height="7.2" rx="3.6"/>
  <rect x="1111" y="404.8" width="23" height="7.2" rx="3.6"/>
</g>
</g>

</svg>
</body></html>
